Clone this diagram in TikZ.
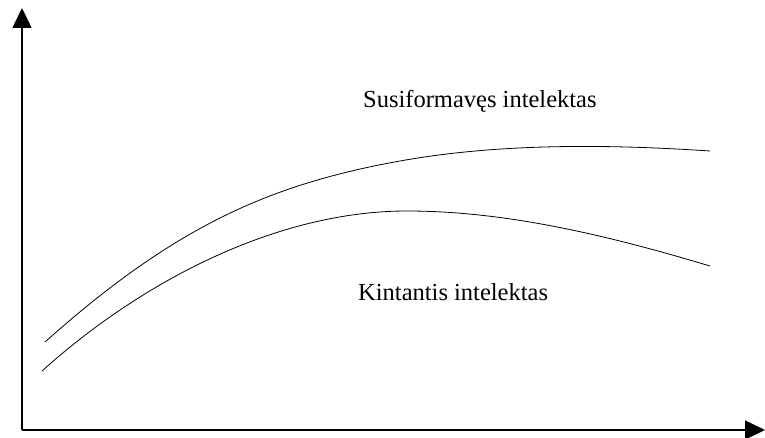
\documentclass[tikz,border=0pt]{standalone}
\usepackage{fontspec}
\setmainfont{Liberation Serif}
\usetikzlibrary{arrows.meta}

\begin{document}
\begin{tikzpicture}[x=1pt,y=-1pt]
        \useasboundingbox (0,0) rectangle (765,438);

        \coordinate (o)  at (22,430);
        \coordinate (yt) at (22,8);
        \coordinate (xt) at (765,430);

        \begin{scope}[line width=1.5pt,-{Triangle[length=20pt,width=19pt]}]
          \draw (o) -- (yt);
          \draw (o) -- (xt);
        \end{scope}

        \begin{scope}[line width=0.8pt]
          % susiformaves
          \draw (45,342) .. controls (175,226) and (270,184.4) .. (400,161)
                         .. controls (500,143) and (610,144.3) .. (710,151);
          % kintantis
          \draw (42,371) .. controls (142,281) and (277,211) .. (407,211)
                         .. controls (507,211) and (610,236) .. (710,266);
        \end{scope}

        \begin{scope}[every node/.style={anchor=base west,inner sep=0pt,font=\fontsize{24.5}{28}\selectfont}]
          \node (upper) at (363,108) {Susiformavęs intelektas};
          \node (lower) at (358,300) {Kintantis intelektas};
        \end{scope}

      \end{tikzpicture}
\end{document}
